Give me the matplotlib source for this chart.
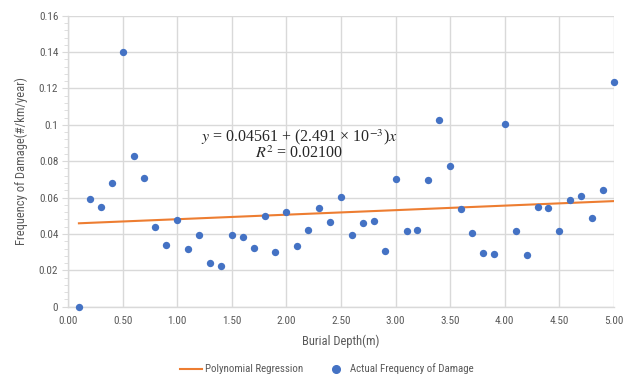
import matplotlib
matplotlib.use("Agg")
import matplotlib.pyplot as plt
from matplotlib import font_manager
from matplotlib.ticker import MultipleLocator, FuncFormatter
from matplotlib.lines import Line2D

depth = [0.1, 0.2, 0.3, 0.4, 0.5, 0.6, 0.7, 0.8, 0.9, 1.0,
         1.1, 1.2, 1.3, 1.4, 1.5, 1.6, 1.7, 1.8, 1.9, 2.0,
         2.1, 2.2, 2.3, 2.4, 2.5, 2.6, 2.7, 2.8, 2.9, 3.0,
         3.1, 3.2, 3.3, 3.4, 3.5, 3.6, 3.7, 3.8, 3.9, 4.0,
         4.1, 4.2, 4.3, 4.4, 4.5, 4.6, 4.7, 4.8, 4.9, 5.0]
frequency = [0.0, 0.0594, 0.0550, 0.0681, 0.1398, 0.0831, 0.0706, 0.0439, 0.0339, 0.0477,
             0.0317, 0.0393, 0.0240, 0.0222, 0.0393, 0.0383, 0.0321, 0.0497, 0.0303, 0.0519,
             0.0336, 0.0420, 0.0541, 0.0464, 0.0602, 0.0396, 0.0461, 0.0472, 0.0306, 0.0703,
             0.0418, 0.0424, 0.0699, 0.1026, 0.0771, 0.0539, 0.0406, 0.0297, 0.0290, 0.1004,
             0.0418, 0.0284, 0.0549, 0.0545, 0.0415, 0.0589, 0.0607, 0.0490, 0.0639, 0.1233]
intercept = 0.04561
slope = 2.491e-3
fit_x = [0.1, 5.0]


def pick(names):
    for n in names:
        try:
            font_manager.findfont(font_manager.FontProperties(family=n), fallback_to_default=False)
            return n
        except Exception:
            continue
    return 'DejaVu Sans'


sans = pick(['Liberation Sans Narrow', 'Roboto Condensed', 'Open Sans Condensed', 'Lato', 'Liberation Sans'])
serif = pick(['Liberation Serif', 'DejaVu Serif'])
plt.rcParams['font.family'] = [sans, 'DejaVu Sans']
plt.rcParams['mathtext.fontset'] = 'stix'

fig = plt.figure(figsize=(6.43, 3.76), dpi=100)
ax = fig.add_axes([68/643, 1-306.7/376, (614-68)/643, (306.7-15.7)/376])

grey = '#595959'
gridc = '#D9D9D9'
fit_y = [intercept + slope * x for x in fit_x]
ax.plot(fit_x, fit_y, color='#ED7D31', lw=1.5, zorder=2)
ax.scatter(depth, frequency, s=28, color='#4472C4', zorder=3, clip_on=False, linewidths=0)

ax.set_xlim(0, 5)
ax.set_ylim(0, 0.16)
ax.xaxis.set_major_locator(MultipleLocator(0.5))
ax.yaxis.set_major_locator(MultipleLocator(0.02))
ax.yaxis.set_minor_locator(MultipleLocator(0.004))
ax.xaxis.set_major_formatter(FuncFormatter(lambda v, p: f"{v:.2f}"))
ax.yaxis.set_major_formatter(FuncFormatter(lambda v, p: "0" if abs(v) < 1e-9 else f"{v:.2f}".rstrip('0')))
ax.grid(True, color=gridc, lw=1.0, zorder=0)
ax.set_axisbelow(True)
for s in ['top', 'right']:
    ax.spines[s].set_visible(False)
for s in ['left', 'bottom']:
    ax.spines[s].set_color(gridc)
    ax.spines[s].set_linewidth(1.0)
ax.tick_params(axis='x', length=0, labelsize=8, colors=grey, pad=7)
ax.tick_params(axis='y', which='major', length=4, color=gridc, labelsize=8, labelcolor=grey, pad=3)
ax.tick_params(axis='y', which='minor', length=3, color=gridc)

ax.set_xlabel('Burial Depth(m)', fontsize=9, color=grey, labelpad=6)
ax.set_ylabel('Frequency of Damage(#/km/year)', fontsize=9, color=grey, labelpad=8)

eq_color = '#262626'
ax.text(2.115, 0.0933, r'$y$ = 0.04561 + (2.491 × 10$^{-3}$)$x$', ha='center', va='center',
        fontsize=11.5, color=eq_color, family=[serif, 'DejaVu Serif'])
ax.text(2.115, 0.0840, r'$R^2$ = 0.02100', ha='center', va='center',
        fontsize=11.5, color=eq_color, family=[serif, 'DejaVu Serif'])

handles = [Line2D([0], [0], color='#ED7D31', lw=1.5),
           Line2D([0], [0], marker='o', color='#4472C4', lw=0, markersize=5.5)]
fig.legend(handles, ['Polynomial Regression', 'Actual Frequency of Damage'],
           loc='center', bbox_to_anchor=(327/643, 1-369/376), ncol=2, frameon=False,
           fontsize=7.8, labelcolor=grey, handlelength=2.0, columnspacing=2.0, handletextpad=0.3)

fig.savefig('out.png', dpi=100)
